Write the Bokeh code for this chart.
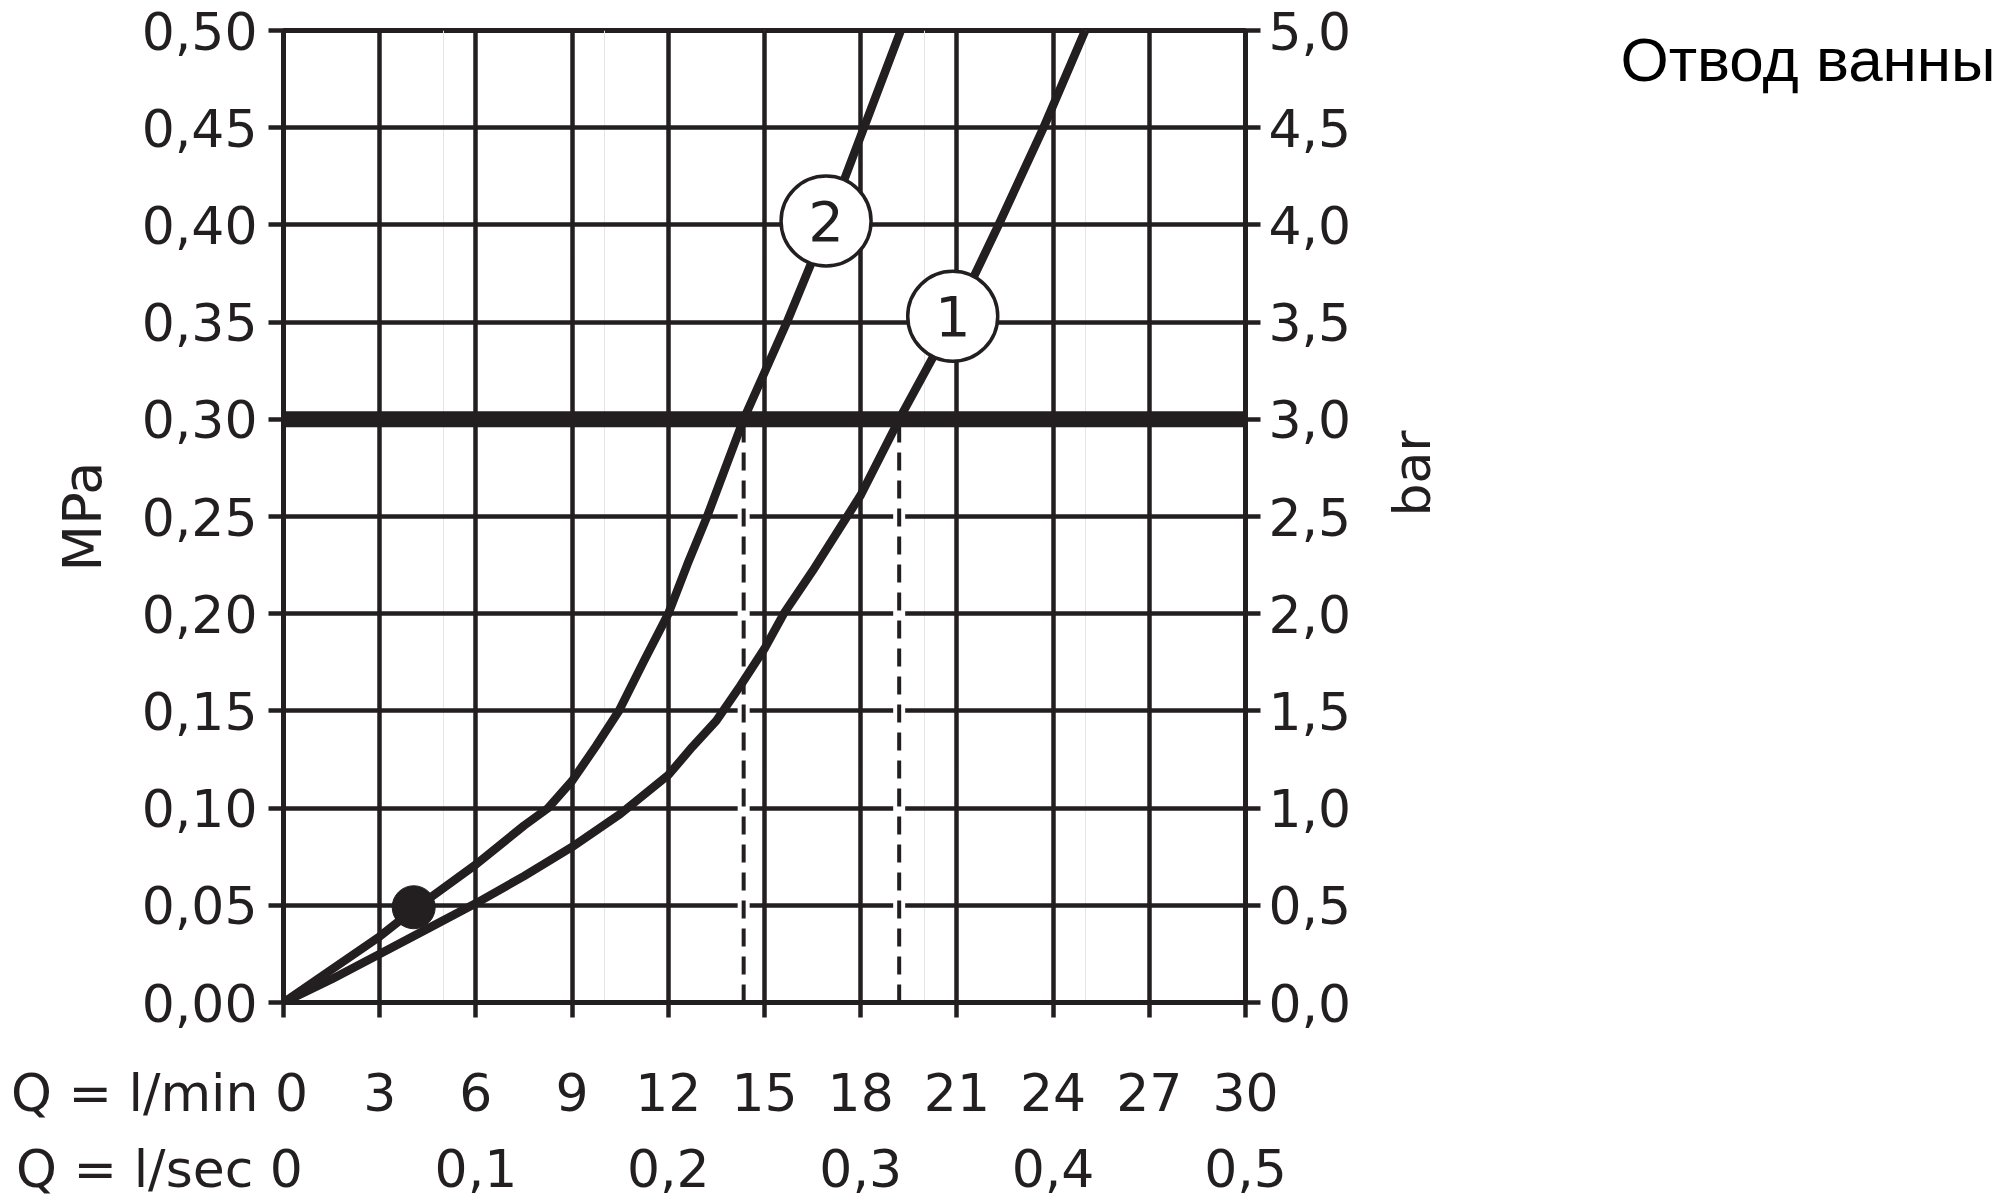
import math
from bokeh.plotting import figure
from bokeh.layouts import row
from bokeh.models import Range1d, LinearAxis, FixedTicker, Span, Grid, ColumnDataSource, Title
from bokeh.core.properties import value
from bokeh.embed import file_html
from bokeh.resources import INLINE

# ---------------- data ----------------
q_lmin_ticks = [0, 3, 6, 9, 12, 15, 18, 21, 24, 27, 30]
q_lmin_labels = ["0", "3", "6", "9", "12", "15", "18", "21", "24", "27", "30"]
q_lsec_ticks = [0, 6, 12, 18, 24, 30]
q_lsec_labels = ["0", "0,1", "0,2", "0,3", "0,4", "0,5"]
mpa_ticks = [0.0, 0.05, 0.1, 0.15, 0.2, 0.25, 0.3, 0.35, 0.4, 0.45, 0.5]
mpa_labels = ["0,00", "0,05", "0,10", "0,15", "0,20", "0,25", "0,30", "0,35", "0,40", "0,45", "0,50"]
bar_ticks = [0.0, 0.5, 1.0, 1.5, 2.0, 2.5, 3.0, 3.5, 4.0, 4.5, 5.0]
bar_labels = ["0,0", "0,5", "1,0", "1,5", "2,0", "2,5", "3,0", "3,5", "4,0", "4,5", "5,0"]

# curve 1 (right curve)
curve1_q = [0, 1.5, 3, 4.5, 6, 7.5, 9, 10.5, 12, 12.75, 13.5, 14.25, 15, 15.6, 16.5, 18, 19.2, 20.85, 22.3, 23.7, 25.0]
curve1_mpa = [0, 0.012, 0.025, 0.038, 0.051, 0.065, 0.080, 0.097, 0.117, 0.1315, 0.145, 0.163, 0.182, 0.20, 0.222, 0.261, 0.30, 0.35, 0.40, 0.45, 0.50]
# curve 2 (left curve)
curve2_q = [0, 1.5, 3, 4.0, 6, 7.5, 8.25, 9, 9.75, 10.46, 11.25, 12, 12.6, 13.21, 14.35, 15.7, 16.95, 18.1, 19.25]
curve2_mpa = [0, 0.017, 0.034, 0.047, 0.071, 0.091, 0.10, 0.114, 0.132, 0.15, 0.176, 0.20, 0.2256, 0.25, 0.30, 0.35, 0.40, 0.45, 0.50]

rated_pressure = 0.30
crossing_q = [14.35, 19.2]
crossing_mpa = [0.30, 0.30]

marker_q = [20.87, 16.92]
marker_mpa = [0.353, 0.402]
marker_text = ["1", "2"]

min_point_q = [4.06]
min_point_mpa = [0.049]

title_text = "Отвод ванны"
x_title_min = "Q = l/min"
x_title_sec = "Q = l/sec"
y_title_left = "MPa"
y_title_right = "bar"

INK = "#231f20"
FONT = "DejaVu Sans"
NB = "\u00a0"

p = figure(width=1475, height=1201,
           x_range=Range1d(0, 30), y_range=Range1d(0, 0.5),
           output_backend="svg", toolbar_location=None,
           x_axis_location=None, y_axis_location=None,
           min_border_left=283, min_border_right=230,
           min_border_top=30, min_border_bottom=199)
p.extra_y_ranges = {"bar": Range1d(0, 5)}
p.outline_line_color = INK
p.outline_line_width = 5
p.background_fill_color = "white"
p.border_fill_color = "white"

# grids
p.add_layout(Grid(dimension=0, ticker=FixedTicker(ticks=q_lmin_ticks), grid_line_color=INK, grid_line_width=4.5))
p.add_layout(Grid(dimension=1, ticker=FixedTicker(ticks=mpa_ticks), grid_line_color=INK, grid_line_width=4.5))


def style_axis(ax, standoff):
    ax.axis_line_color = INK
    ax.axis_line_width = 5
    ax.major_tick_line_color = INK
    ax.major_tick_line_width = 4.5
    ax.major_tick_out = 15
    ax.major_tick_in = 0
    ax.minor_tick_line_color = None
    ax.major_label_text_font = FONT
    ax.major_label_text_font_size = "52px"
    ax.major_label_text_color = INK
    ax.major_label_standoff = standoff
    ax.axis_label_text_font = FONT
    ax.axis_label_text_font_size = "54px"
    ax.axis_label_text_font_style = "normal"
    ax.axis_label_text_color = INK


left = LinearAxis(ticker=FixedTicker(ticks=mpa_ticks),
                  major_label_overrides={t: s for t, s in zip(mpa_ticks, mpa_labels)},
                  axis_label=y_title_left)
style_axis(left, 11)
left.axis_label_standoff = 25
p.add_layout(left, "left")

right = LinearAxis(y_range_name="bar", ticker=FixedTicker(ticks=bar_ticks),
                   major_label_overrides={t: s for t, s in zip(bar_ticks, bar_labels)},
                   axis_label=y_title_right)
style_axis(right, 8)
right.axis_label_text_font_size = "52px"
right.axis_label_standoff = 58
if "axis_label_orientation" in right.properties():
    right.axis_label_orientation = math.pi / 2
p.add_layout(right, "right")

# bottom axes: the row title is written in front of the first tick label
min_over = {t: s for t, s in zip(q_lmin_ticks, q_lmin_labels)}
min_over[q_lmin_ticks[0]] = x_title_min + NB + q_lmin_labels[0] + NB * 15
bottom1 = LinearAxis(ticker=FixedTicker(ticks=q_lmin_ticks), major_label_overrides=min_over)
style_axis(bottom1, 45)
p.add_layout(bottom1, "below")

sec_over = {t: s for t, s in zip(q_lsec_ticks, q_lsec_labels)}
sec_over[q_lsec_ticks[0]] = x_title_sec + NB + q_lsec_labels[0] + NB * 15
bottom2 = LinearAxis(ticker=FixedTicker(ticks=q_lsec_ticks), major_label_overrides=sec_over)
style_axis(bottom2, 13)
bottom2.axis_line_color = None
bottom2.major_tick_line_color = None
bottom2.major_tick_out = 0
p.add_layout(bottom2, "below")

# white gaps behind dashed verticals
p.segment(x0=crossing_q, y0=[0.003] * len(crossing_q), x1=crossing_q,
          y1=[m - 0.003 for m in crossing_mpa], line_color="white", line_width=12)

# curves
p.line(curve1_q, curve1_mpa, line_color=INK, line_width=8.5, line_join="round")
p.line(curve2_q, curve2_mpa, line_color=INK, line_width=8.5, line_join="round")

# dashed verticals
p.segment(x0=crossing_q, y0=[0] * len(crossing_q), x1=crossing_q, y1=crossing_mpa,
          line_color=INK, line_width=4, line_dash="18 10")

# rated pressure line
p.add_layout(Span(location=rated_pressure, dimension="width", line_color=INK, line_width=16))

# point
p.scatter(min_point_q, min_point_mpa, size=43, marker="circle", fill_color=INK, line_color=INK)

# curve markers
msrc = ColumnDataSource(dict(x=marker_q, y=marker_mpa, t=marker_text))
p.scatter("x", "y", source=msrc, size=90, marker="circle", fill_color="white",
          line_color=INK, line_width=3.5)
p.text("x", "y", text="t", source=msrc, text_align="center", text_baseline="middle",
       text_font=value(FONT), text_font_size="56px", text_color=INK)

# title panel on the right
p2 = figure(width=525, height=1201, output_backend="svg", toolbar_location=None,
            x_axis_location=None, y_axis_location=None,
            min_border_left=0, min_border_right=0, min_border_bottom=0, min_border_top=93)
p2.outline_line_color = None
p2.grid.visible = False
p2.title = Title(text=title_text, align="left", offset=145, standoff=0,
                 text_font="Liberation Sans", text_font_size="62px",
                 text_font_style="normal", text_color="black")

for fig in (p, p2):
    if "frame_align" in fig.properties():
        fig.frame_align = False

layout = row(p, p2)
open("out.html", "w").write(file_html(layout, INLINE))
